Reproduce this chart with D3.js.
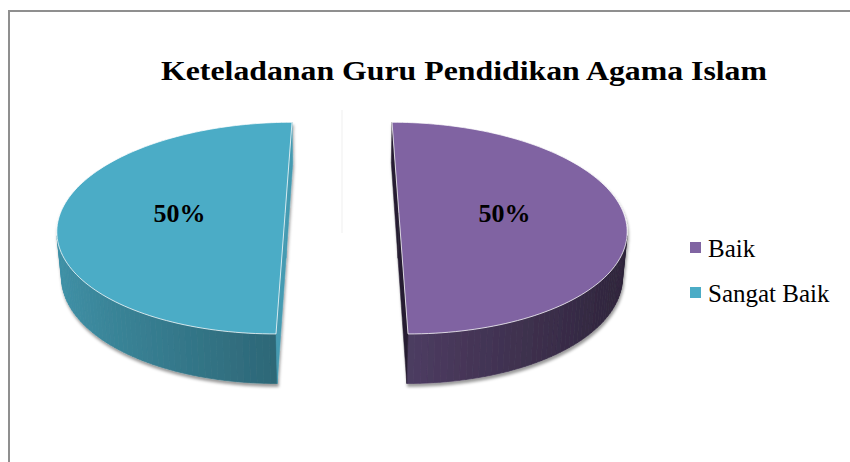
<!DOCTYPE html>
<html><head><meta charset="utf-8">
<script src="https://cdn.jsdelivr.net/npm/d3@7"></script>
<style>body{margin:0;background:#fff} svg{display:block}</style>
</head><body>
<svg id="c" width="850" height="462"></svg>
<script>
const title = "Keteladanan Guru Pendidikan Agama Islam";
const categories = ["Baik", "Sangat Baik"];
const values = [50, 50];
const colors = ["#8064A2", "#4BACC6"];

const svg = d3.select("#c");
const defs = svg.append("defs");
const flt = defs.append("filter").attr("id","sh").attr("x","-10%").attr("y","-10%").attr("width","130%").attr("height","130%");
flt.append("feDropShadow").attr("dx",1).attr("dy",3).attr("stdDeviation",1.6)
  .attr("flood-color","#000").attr("flood-opacity",0.4);

svg.append("rect").attr("x",9).attr("y",11).attr("width",1000).attr("height",1000)
  .attr("fill","none").attr("stroke","#8f8f8f").attr("stroke-width",2);

svg.append("line").attr("x1",342).attr("x2",342).attr("y1",110).attr("y2",233)
  .attr("stroke","#efefef").attr("stroke-width",1);

const color = d3.scaleOrdinal().domain(categories).range(colors);
const pie = d3.pie().sort(null).value(d => d.v);
const arcs = pie(categories.map((c, i) => ({c, v: values[i]})));
const total = d3.sum(values);
const pct = d3.format(".0%");

// 3D perspective camera
const tilt = 27.5 * Math.PI / 180, st = Math.sin(tilt), ct = Math.cos(tilt);
const Dist = 6.43, F = 1446, cx = 342, cy = 213.5;
const R = 1, Hh = 0.228, explode = 0.253;
function proj(p) {
  const d = Dist + p[1] * ct - p[2] * st;
  return [cx + p[0] * F / d, cy - (p[1] * st + p[2] * ct) * F / d];
}
const cam = [0, -Dist * ct, Dist * st];
const visible = (P, n) => (cam[0]-P[0])*n[0] + (cam[1]-P[1])*n[1] + (cam[2]-P[2])*n[2] > 0;
const shade = (c, b) => { const r = d3.rgb(c); return d3.rgb(r.r*b, r.g*b, r.b*b).formatHex(); };
const line = d3.line();
const path = pts => line(pts.map(proj)) + "Z";

arcs.forEach(a => {
  const base = color(a.data.c);
  const mid = (a.startAngle + a.endAngle) / 2;
  const ox = explode * Math.sin(mid), oy = explode * Math.cos(mid);
  const pt = (ang, r, z) => [ox + r * Math.sin(ang), oy + r * Math.cos(ang), z];
  const N = 120;
  const angs = d3.range(N + 1).map(i => a.startAngle + (a.endAngle - a.startAngle) * i / N);
  const g = svg.append("g").attr("filter", "url(#sh)");

  // outer curved side
  for (let i = 0; i < N; i++) {
    const a1 = angs[i], a2 = angs[i + 1], am = (a1 + a2) / 2;
    const n = [Math.sin(am), Math.cos(am), 0];
    if (!visible(pt(am, R, -Hh / 2), n)) continue;
    const col = shade(base, 0.6 - 0.25 * n[0]);
    g.append("path").attr("d", path([pt(a1,R,0), pt(a2,R,0), pt(a2,R,-Hh), pt(a1,R,-Hh)]))
      .attr("fill", col).attr("stroke", col).attr("stroke-width", 0.7);
  }
  // radial (cut) faces
  const a0 = a.startAngle, aE = a.endAngle;
  [[a0, [-Math.cos(a0), Math.sin(a0), 0]], [aE, [Math.cos(aE), -Math.sin(aE), 0]]].forEach(([ang, n]) => {
    if (!visible(pt(ang, R/2, -Hh/2), n)) return;
    const col = shade(base, 0.6 + 0.3 * n[0]);
    g.append("path").attr("d", path([pt(0,0,0), pt(ang,R,0), pt(ang,R,-Hh), pt(0,0,-Hh)]))
      .attr("fill", col).attr("stroke", col).attr("stroke-width", 0.5);
  });
  // top face
  g.append("path").attr("d", path([pt(0,0,0)].concat(angs.map(t => pt(t, R, 0)))))
    .attr("fill", base).attr("stroke", "rgba(255,255,255,0.75)").attr("stroke-width", 1);

  // label
  const c = d3.arc().innerRadius(0).outerRadius(0.94).centroid(a);
  const lp = proj([ox + c[0], oy - c[1], 0]);
  svg.append("text").attr("x", lp[0]).attr("y", lp[1] + 8)
    .attr("text-anchor", "middle").attr("font-family", "Liberation Serif, Times New Roman, serif")
    .attr("font-weight", "bold").attr("font-size", 26).attr("fill", "#000")
    .text(pct(a.data.v / total));
});

svg.append("text").attr("x", 464).attr("y", 80).attr("text-anchor", "middle")
  .attr("font-family", "Liberation Serif, Times New Roman, serif").attr("font-weight", "bold")
  .attr("font-size", 28).attr("textLength", 606).attr("lengthAdjust", "spacingAndGlyphs")
  .attr("fill", "#000").text(title);

const lg = svg.append("g");
categories.forEach((c, i) => {
  lg.append("rect").attr("x", 690).attr("y", 242 + i * 45).attr("width", 11).attr("height", 11).attr("fill", color(c));
  lg.append("text").attr("x", 708).attr("y", 257 + i * 45)
    .attr("font-family", "Liberation Serif, Times New Roman, serif").attr("font-size", 25)
    .attr("fill", "#000").text(c);
});
</script>
</body></html>
